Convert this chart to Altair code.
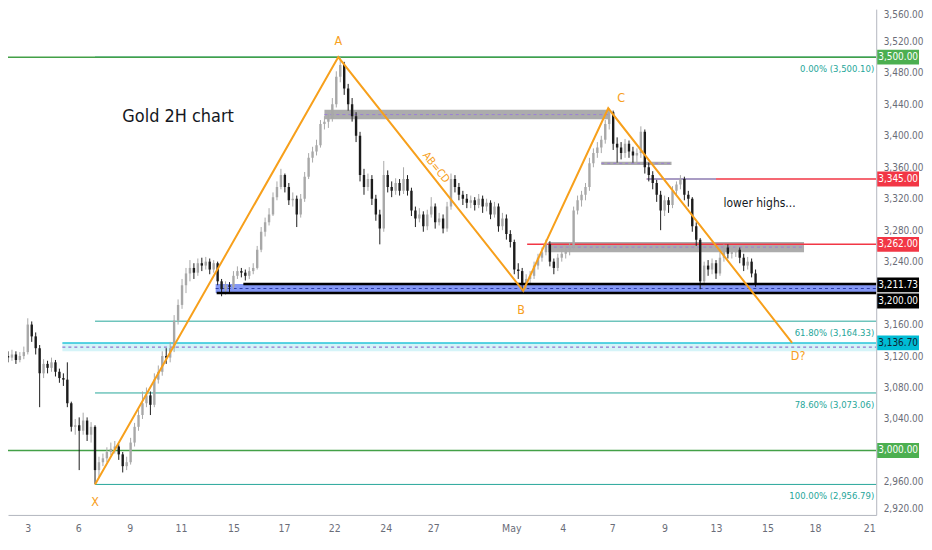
import altair as alt
import pandas as pd

NARROW = "Liberation Sans Narrow, DejaVu Sans Condensed, Arial Narrow, sans-serif"
W, H = 872, 508
X_END = 219.5

# ---------------- candle data (2H bars, sampled) ----------------
first_open = 3120
close = [
    3118, 3122, 3115, 3120, 3125, 3160, 3145, 3130, 3098, 3110,
    3105, 3112, 3100, 3092, 3090, 3060, 3030, 3032, 3025, 3038,
    3020, 3030, 2975, 2985, 2990, 2998, 3002, 3005, 2995, 2980,
    2985, 3010, 3030, 3045, 3060, 3070, 3058, 3090, 3100, 3120,
    3118, 3130, 3165, 3185, 3210, 3225, 3232, 3226, 3238, 3235,
    3240, 3230, 3238, 3215, 3205, 3210, 3208, 3222, 3228, 3226,
    3222, 3228, 3232, 3255, 3278, 3290, 3300, 3322, 3335, 3350,
    3335, 3318, 3320, 3300, 3320, 3348, 3372, 3380, 3388, 3415,
    3418, 3422, 3440, 3475, 3490, 3460, 3440, 3425, 3400, 3350,
    3335, 3345, 3320, 3300, 3282, 3350, 3335, 3330, 3340, 3330,
    3345, 3330, 3305, 3295, 3300, 3285, 3300, 3310, 3290, 3295,
    3282, 3310, 3345, 3335, 3325, 3320, 3315, 3318, 3312, 3320,
    3310, 3315, 3300, 3310, 3285, 3295, 3275, 3265, 3230, 3228,
    3212, 3218, 3222, 3235, 3245, 3252, 3262, 3240, 3232, 3245,
    3250, 3255, 3258, 3305, 3318, 3325, 3335, 3365, 3378, 3385,
    3395, 3415, 3430, 3390, 3385, 3378, 3390, 3380, 3375, 3378,
    3405, 3360, 3350, 3340, 3325, 3305, 3318, 3312, 3330, 3338,
    3345, 3325, 3320, 3285, 3268, 3215, 3235, 3230, 3238, 3225,
    3245, 3258, 3250, 3252, 3255, 3245, 3235, 3240, 3225, 3212,
]
high = [
    3126, 3128, 3126, 3125, 3132, 3168, 3164, 3150, 3134, 3116,
    3114, 3118, 3115, 3104, 3098, 3112, 3062, 3040, 3042, 3048,
    3042, 3036, 3032, 2992, 2996, 3004, 3010, 3012, 3008, 2998,
    2992, 3016, 3035, 3052, 3075, 3080, 3075, 3098, 3108, 3126,
    3130, 3138, 3172, 3192, 3218, 3232, 3242, 3238, 3244, 3245,
    3246, 3244, 3242, 3240, 3218, 3215, 3214, 3228, 3234, 3232,
    3230, 3233, 3238, 3260, 3284, 3296, 3308, 3328, 3342, 3358,
    3352, 3340, 3328, 3324, 3326, 3354, 3378, 3386, 3395, 3420,
    3425, 3428, 3448, 3482, 3500, 3494, 3466, 3448, 3430, 3405,
    3358, 3352, 3350, 3325, 3306, 3368, 3356, 3342, 3346, 3345,
    3360, 3350, 3334, 3310, 3308, 3304, 3306, 3322, 3314, 3302,
    3300, 3316, 3352, 3350, 3340, 3330, 3326, 3324, 3322, 3326,
    3324, 3320, 3318, 3316, 3314, 3302, 3300, 3280, 3268, 3238,
    3232, 3224, 3228, 3240, 3250, 3258, 3268, 3266, 3244, 3250,
    3256, 3260, 3264, 3310, 3324, 3330, 3340, 3372, 3384, 3392,
    3400, 3420, 3435, 3432, 3398, 3392, 3396, 3394, 3386, 3384,
    3412, 3408, 3366, 3355, 3344, 3330, 3324, 3322, 3336, 3342,
    3350, 3348, 3330, 3322, 3290, 3270, 3240, 3242, 3244, 3242,
    3252, 3262, 3262, 3258, 3260, 3258, 3250, 3246, 3244, 3230,
]
low = [
    3112, 3114, 3110, 3112, 3116, 3122, 3138, 3122, 3055, 3092,
    3098, 3100, 3094, 3086, 3082, 3055, 3024, 3020, 2975, 3020,
    3012, 3010, 2957, 2965, 2980, 2985, 2994, 2996, 2988, 2972,
    2975, 2982, 3005, 3025, 3040, 3055, 3045, 3055, 3085, 3095,
    3110, 3112, 3125, 3160, 3180, 3200, 3215, 3218, 3222, 3228,
    3230, 3224, 3226, 3210, 3196, 3198, 3200, 3205, 3218, 3220,
    3216, 3218, 3224, 3230, 3252, 3272, 3286, 3298, 3318, 3332,
    3328, 3312, 3310, 3284, 3296, 3316, 3345, 3366, 3375, 3385,
    3408, 3410, 3418, 3436, 3468, 3452, 3432, 3418, 3392, 3342,
    3325, 3330, 3312, 3292, 3262, 3278, 3328, 3322, 3325, 3324,
    3326, 3324, 3298, 3284, 3290, 3278, 3280, 3296, 3282, 3286,
    3276, 3278, 3306, 3328, 3318, 3312, 3308, 3308, 3305, 3308,
    3302, 3304, 3294, 3296, 3278, 3280, 3268, 3258, 3224, 3218,
    3202, 3204, 3210, 3218, 3230, 3240, 3248, 3234, 3224, 3228,
    3240, 3244, 3248, 3255, 3300, 3310, 3318, 3330, 3360, 3372,
    3378, 3390, 3408, 3382, 3366, 3370, 3372, 3372, 3366, 3366,
    3372, 3352, 3342, 3332, 3316, 3280, 3298, 3302, 3308, 3324,
    3332, 3318, 3310, 3278, 3260, 3205, 3208, 3222, 3224, 3218,
    3222, 3240, 3244, 3244, 3246, 3238, 3228, 3230, 3220, 3208,
]

# date ticks (bar index -> label)
tick_idx = [5, 17.75, 30.75, 43.75, 57, 69.75, 82.5, 95.5, 107.5, 127.25,
            140.25, 152.75, 166, 179, 192, 204, 217.75]
tick_lbl = ["3", "6", "9", "11", "15", "17", "22", "24", "27", "May",
            "4", "7", "9", "13", "15", "18", "21"]
price_ticks = [2920, 2960, 3000, 3040, 3080, 3120, 3160, 3200, 3240, 3280,
               3320, 3360, 3400, 3440, 3480, 3520, 3560]

# ---------------- annotation data ----------------
green_p = [3500.0, 3000.0]
fib_p = [3500.10, 3164.33, 3073.06, 2956.79]
fib_txt = ["0.00% (3,500.10)", "61.80% (3,164.33)", "78.60% (3,073.06)", "100.00% (2,956.79)"]
fib_from = 22
red_p = [3345.0, 3262.0]
red_from = [161.5, 131.25]
black_p = [3211.73, 3200.0]
black_from = [59.5, 52.75]
blue_zone = {"p1": [3200.0], "p2": [3211.73], "t1": [52.5]}
cyan_zone = {"p1": [3126.0], "p2": [3136.7], "t1": [13.75]}
gray_lo = [3421, 3252, 3363]
gray_hi = [3433, 3265, 3367]
gray_from = [80, 136.5, 150]
gray_to = [152, 201.25, 167.75]
seg_3345 = {"p": [3345.0], "t1": [161.5], "t2": [179]}

pat_lbl = ["X", "A", "B", "C", "D?"]
pat_t = [22, 83.5, 130.25, 151.75, 198.25]
pat_p = [2956.79, 3500.10, 3203.0, 3435.0, 3136.7]

box_p = [3500.00, 3345.00, 3262.00, 3211.73, 3200.00, 3136.70, 3000.00]
box_kind = ["green", "red", "red", "black", "black", "cyan", "green"]

# ---------------- build tables ----------------
opens = [first_open] + close[:-1]
candles = pd.DataFrame({"t": list(range(len(close))), "open": opens, "close": close,
                        "high": high, "low": low})
candles["dir"] = ["up" if c >= o else "down" for o, c in zip(opens, close)]

# axis labels hidden behind the coloured price boxes are not drawn
axis_prices = [v for v in price_ticks if all(abs(v - b) > 12 for b in box_p)]

XS = alt.Scale(domain=[0, X_END], nice=False, zero=False, padding=0)
YS = alt.Scale(domain=[2918, 3561], nice=False, zero=False, padding=0)

lbl_expr = ("[" + ",".join(f"'{s}'" for s in tick_lbl) + "][indexof(["
            + ",".join(f"{v:g}" for v in tick_idx) + "], datum.value)]")

AX_COL = "#b2b5be"
LBL_COL = "#6a6d78"
x_axis = alt.Axis(values=tick_idx, labelExpr=lbl_expr, title=None, grid=False, ticks=False,
                  domainColor=AX_COL, labelColor=LBL_COL, labelFont=NARROW, labelFontSize=10.5,
                  labelPadding=9, labelFlush=False)
y_axis = alt.Axis(orient="right", values=axis_prices, format=",.2f", title=None, grid=False,
                  ticks=False, domainColor=AX_COL, labelColor=LBL_COL, labelFont=NARROW,
                  labelFontSize=10, labelPadding=7, labelFlush=2)


def X(f):
    return alt.X(f"{f}:Q", scale=XS, axis=x_axis)


def Y(f):
    return alt.Y(f"{f}:Q", scale=YS, axis=y_axis)


layers = []

# cyan zone
cz = pd.DataFrame(cyan_zone).assign(t2=X_END)
layers.append(alt.Chart(cz).mark_rect(color="#b2ebf2", opacity=0.55, clip=True).encode(
    x=X("t1"), x2="t2", y=Y("p1"), y2="p2"))
layers.append(alt.Chart(cz).mark_rule(color="#26c6da", strokeWidth=1.5, clip=True).encode(
    x=X("t1"), x2="t2", y=Y("p2")))
layers.append(alt.Chart(cz).transform_calculate(mid="(datum.p1 + datum.p2) / 2").mark_rule(
    color="#7e57c2", strokeWidth=1, strokeDash=[3, 3], clip=True).encode(
    x=X("t1"), x2="t2", y=Y("mid")))

# blue support zone
bz = pd.DataFrame(blue_zone).assign(t2=X_END)
layers.append(alt.Chart(bz).mark_rect(color="#6f86f5", opacity=0.85, clip=True).encode(
    x=X("t1"), x2="t2", y=Y("p1"), y2="p2"))
layers.append(alt.Chart(bz).transform_calculate(mid="(datum.p1 + datum.p2) / 2").mark_rule(
    color="#2f3fa8", strokeWidth=1, strokeDash=[3, 3], clip=True).encode(
    x=X("t1"), x2="t2", y=Y("mid")))

# gray zones
gz = pd.DataFrame({"p1": gray_lo, "p2": gray_hi, "t1": gray_from, "t2": gray_to})
layers.append(alt.Chart(gz).mark_rect(color="#9e9e9e", opacity=0.85, clip=True).encode(
    x=X("t1"), x2="t2", y=Y("p1"), y2="p2"))

# fib lines
fz = pd.DataFrame({"p": fib_p, "txt": fib_txt}).assign(t1=fib_from, t2=X_END)
layers.append(alt.Chart(fz).mark_rule(color="#26a69a", strokeWidth=1, clip=True).encode(
    x=X("t1"), x2="t2", y=Y("p")))

# green levels
gl = pd.DataFrame({"p": green_p}).assign(t1=0, t2=X_END)
layers.append(alt.Chart(gl).mark_rule(color="#43a047", strokeWidth=1.5, clip=True).encode(
    x=X("t1"), x2="t2", y=Y("p")))

# red levels
rl = pd.DataFrame({"p": red_p, "t1": red_from}).assign(t2=X_END)
layers.append(alt.Chart(rl).mark_rule(color="#f23645", strokeWidth=1.5, clip=True).encode(
    x=X("t1"), x2="t2", y=Y("p")))
sg = pd.DataFrame(seg_3345)
layers.append(alt.Chart(sg).mark_rule(color="#a99cc4", strokeWidth=2, clip=True).encode(
    x=X("t1"), x2="t2", y=Y("p")))

# purple dashed midlines of gray zones
layers.append(alt.Chart(gz).transform_calculate(mid="(datum.p1 + datum.p2) / 2").mark_rule(
    color="#9c7fd6", strokeWidth=1, strokeDash=[3, 3], clip=True).encode(
    x=X("t1"), x2="t2", y=Y("mid")))

# candles
for d, col in [("up", "#a8a8a8"), ("down", "#1c1c1c")]:
    base = alt.Chart(candles).transform_filter(alt.datum.dir == d)
    layers.append(base.mark_rule(color=col, strokeWidth=1, clip=True).encode(
        x=X("t"), y=Y("low"), y2="high"))
    layers.append(base.mark_bar(color=col, width=2.4, clip=True).encode(
        x=X("t"), y=Y("open"), y2="close"))

# black levels
bl = pd.DataFrame({"p": black_p, "t1": black_from}).assign(t2=X_END)
layers.append(alt.Chart(bl).mark_rule(color="#000000", strokeWidth=2.5, clip=True).encode(
    x=X("t1"), x2="t2", y=Y("p")))

# XABCD pattern
ORANGE = "#f7a01c"
pz = pd.DataFrame({"lbl": pat_lbl, "t": pat_t, "p": pat_p, "seq": list(range(len(pat_lbl)))})
layers.append(alt.Chart(pz).mark_line(color=ORANGE, strokeWidth=2, clip=True).encode(
    x=X("t"), y=Y("p"), order="seq:O"))
offsets = {"X": (0, 18), "A": (0, -16), "B": (-2, 19), "C": (13, -10), "D?": (6, 13)}
for lb, (ddx, ddy) in offsets.items():
    layers.append(alt.Chart(pz).transform_filter(alt.datum.lbl == lb).mark_text(
        color=ORANGE, font=NARROW, fontSize=12.5, dx=ddx, dy=ddy, baseline="middle").encode(
        x=X("t"), y=Y("p"), text="lbl:N"))

# AB=CD label along A-B leg
abcd = pd.DataFrame({"t": [106.6], "p": [3353.0], "txt": ["AB=CD"]})
layers.append(alt.Chart(abcd).mark_text(color=ORANGE, font=NARROW, fontSize=11, angle=51,
                                        dy=-8, baseline="middle", align="center").encode(
    x=X("t"), y=Y("p"), text="txt:N"))

# fib labels
layers.append(alt.Chart(fz).mark_text(color="#26a69a", font=NARROW, fontSize=9.5, align="right",
                                      baseline="middle", dx=-2, dy=12).encode(
    x=X("t2"), y=Y("p"), text="txt:N"))

# free text
tx = pd.DataFrame({"t": [43, 190], "p": [3424, 3314], "txt": ["Gold 2H chart", "lower highs..."],
                   "k": ["title", "note"]})
layers.append(alt.Chart(tx).transform_filter(alt.datum.k == "title").mark_text(
    color="#131722", font=NARROW, fontSize=18, baseline="middle").encode(
    x=X("t"), y=Y("p"), text="txt:N"))
layers.append(alt.Chart(tx).transform_filter(alt.datum.k == "note").mark_text(
    color="#131722", font=NARROW, fontSize=12, baseline="middle").encode(
    x=X("t"), y=Y("p"), text="txt:N"))

# price boxes on right axis
box_fill = {"green": "#4caf50", "red": "#f23645", "black": "#000000", "cyan": "#00bcd4"}
box_txt = {"green": "#ffffff", "red": "#ffffff", "black": "#ffffff", "cyan": "#0c2233"}
box_shift = {3211.73: 1, 3200.0: 8}
boxes = pd.DataFrame({"p": box_p, "kind": box_kind})
RECT = "M-1.4,-0.5L1.4,-0.5L1.4,0.5L-1.4,0.5Z"
for i in range(len(box_p)):
    kd = box_kind[i]
    off = box_shift.get(box_p[i], 0)
    one = alt.Chart(boxes.iloc[[i]])
    layers.append(one.mark_point(shape=RECT, size=900, filled=True, opacity=1,
                                 color=box_fill[kd], yOffset=off).encode(
        x=alt.value(W + 22), y=Y("p")))
    layers.append(one.mark_text(color=box_txt[kd], font=NARROW, fontSize=10,
                                baseline="middle", yOffset=off).encode(
        x=alt.value(W + 22), y=Y("p"), text=alt.Text("p:Q", format=",.2f")))

chart = alt.layer(*layers).properties(
    width=W, height=H, padding=0, background="white"
).configure_view(stroke=None)

chart.save("out.html", embed_options={"renderer": "svg", "actions": False})
